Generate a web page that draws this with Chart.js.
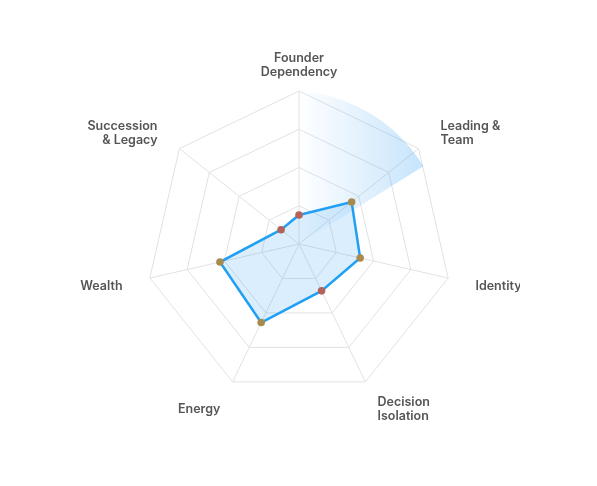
<!DOCTYPE html>
<html>
<head>
<meta charset="utf-8">
<script src="https://cdn.jsdelivr.net/npm/chart.js@4"></script>
<style>
    html, body { margin: 0; padding: 0; background: #fff; }
    #wrap { position: absolute; left: 0; top: 0; width: 520px; height: 486px; }
</style>
</head>
<body>
<div id="wrap"><canvas id="radar"></canvas></div>
<script>
// Podaci grafa
const categories = [
    ['Founder', 'Dependency'],
    ['Leading &', 'Team'],
    ['Identity'],
    ['Decision', 'Isolation'],
    ['Energy'],
    ['Wealth'],
    ['Succession', '& Legacy']
];
const scores = [19, 44, 41, 34, 57, 53, 15];
const scaleMax = 100;
const scaleStep = 25;
const warnLimit = 40;

const lineBlue = 'rgb(33, 160, 243)';
const redDot = '#b3635a';
const goldDot = '#a98a4e';

// Istaknuti isječak između prve dvije osi
const highlightPlugin = {
    id: 'highlight',
    beforeDatasetsDraw(chart) {
        const s = chart.scales.r;
        const ctx = chart.ctx;
        const R = s.drawingArea;
        const ax = s.xCenter - 0.065 * R;
        const ay = s.yCenter + 0.03 * R;
        const r = 1.03 * R;
        const a0 = Math.atan2(-R - 0.03 * R, 0.065 * R);
        const a1 = -31.5 * Math.PI / 180;
        const grad = ctx.createLinearGradient(s.xCenter, 0, s.xCenter + 0.82 * R, 0);
        grad.addColorStop(0, 'rgba(33, 150, 243, 0)');
        grad.addColorStop(1, 'rgba(33, 150, 243, 0.26)');
        ctx.save();
        ctx.beginPath();
        ctx.moveTo(s.xCenter, s.yCenter);
        ctx.arc(ax, ay, r, a0, a1);
        ctx.closePath();
        ctx.fillStyle = grad;
        ctx.fill();
        ctx.restore();
    }
};

// Oznake osi, centrirane okomito oko točke
const labelsPlugin = {
    id: 'axisLabels',
    afterDraw(chart) {
        const s = chart.scales.r;
        const ctx = chart.ctx;
        const lineH = 14;
        ctx.save();
        ctx.font = '600 12.5px Inter, "Noto Sans", sans-serif';
        ctx.fillStyle = '#555555';
        ctx.textBaseline = 'middle';
        categories.forEach((lines, i) => {
            const p = s.getPointPosition(i, s.drawingArea + 28);
            const deg = i * 360 / categories.length;
            ctx.textAlign = (deg === 0 || deg === 180) ? 'center' : (deg < 180 ? 'left' : 'right');
            const y0 = p.y + 2 - (lines.length - 1) * lineH / 2;
            lines.forEach((t, k) => ctx.fillText(t, p.x, y0 + k * lineH));
        });
        ctx.restore();
    }
};

new Chart(document.getElementById('radar'), {
    type: 'radar',
    data: {
        labels: categories,
        datasets: [{
            data: scores,
            borderColor: lineBlue,
            borderWidth: 2.5,
            backgroundColor: 'rgba(33, 150, 243, 0.16)',
            fill: true,
            pointRadius: 3.8,
            pointBorderWidth: 0,
            pointBackgroundColor: scores.map(v => v < warnLimit ? redDot : goldDot),
            pointBorderColor: scores.map(v => v < warnLimit ? redDot : goldDot)
        }]
    },
    options: {
        responsive: true,
        maintainAspectRatio: false,
        animation: false,
        layout: { padding: { left: 146, right: 68, top: 91, bottom: 89 } },
        plugins: {
            legend: { display: false },
            tooltip: { enabled: false }
        },
        scales: {
            r: {
                min: 0,
                max: scaleMax,
                ticks: { display: false, stepSize: scaleStep },
                grid: { color: '#e2e2e2', lineWidth: 1 },
                angleLines: { color: '#e2e2e2', lineWidth: 1 },
                pointLabels: { display: false }
            }
        }
    },
    plugins: [highlightPlugin, labelsPlugin]
});
</script>
</body>
</html>
